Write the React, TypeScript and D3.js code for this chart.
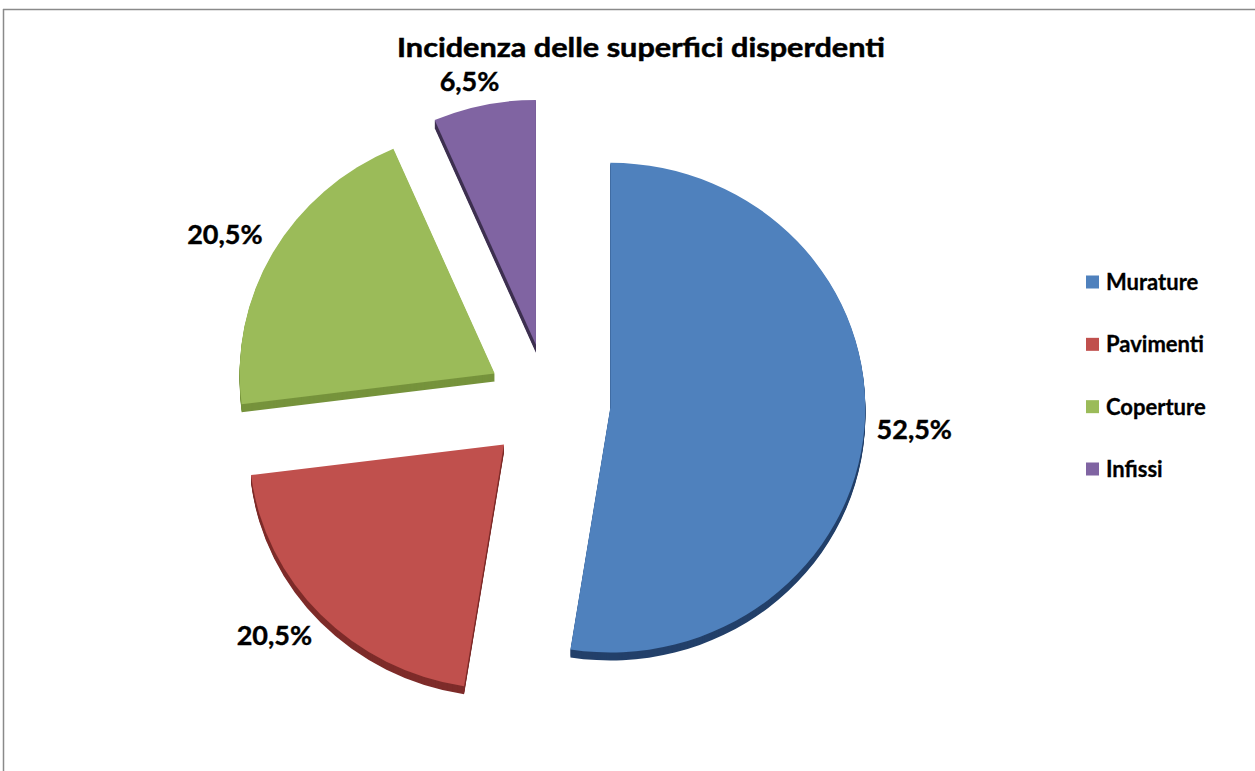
import React from "react";
import * as d3 from "d3";

const categories = ["Murature", "Pavimenti", "Coperture", "Infissi"];
const values = [52.5, 20.5, 20.5, 6.5];
const topColors = ["#4F81BD", "#C0504D", "#9BBB59", "#8064A2"];
const sideColors = ["#23406A", "#7E2C2A", "#76933C", "#3F3151"];
const title = "Incidenza delle superfici disperdenti";

const W = 1255;
const H = 771;
const FONT = "Lato, 'Open Sans', sans-serif";

export default function App() {
  const cx = 548.5;
  const cy = 403;
  const r = 255;
  const s = 0.96; // tilt (vertical squash)
  const explode = 62;
  const depth = 8;

  const pie = d3
    .pie<number>()
    .sort(null)
    .value((d) => d)
    .startAngle(0)
    .endAngle(2 * Math.PI);
  const arcs = pie(values);
  const arcGen = d3.arc<d3.PieArcDatum<number>>().innerRadius(0).outerRadius(r);

  const fmt = (v: number) => v.toFixed(1).replace(".", ",") + "%";
  const labelSize = 27;
  const clamp = (v: number) => Math.max(-1, Math.min(1, v));

  const legendY = d3
    .scalePoint<string>()
    .domain(categories)
    .range([282, 469]);

  return (
    <svg
      width={W}
      height={H}
      style={{ position: "absolute", left: 0, top: 0, background: "#fff" }}
    >
      <rect x={0} y={0} width={W} height={H} fill="#fff" />
      <line x1={3} y1={9.5} x2={W} y2={9.5} stroke="#8a8a8a" strokeWidth={1.5} />
      <line x1={3.5} y1={9} x2={3.5} y2={H} stroke="#8a8a8a" strokeWidth={1.5} />

      <text
        x={641}
        y={57}
        textAnchor="middle"
        fontFamily={FONT}
        fontWeight={700}
        fontSize={27}
        textLength={488}
        lengthAdjust="spacingAndGlyphs"
        fill="#000"
        stroke="#000"
        strokeWidth={0.5}
      >
        {title}
      </text>

      {arcs.map((a, i) => {
        const mid = (a.startAngle + a.endAngle) / 2;
        const ox = cx + Math.sin(mid) * explode;
        const oy = cy - Math.cos(mid) * explode * s;
        const path = arcGen(a) || "";
        const layers = d3.range(depth, 0, -1);
        return (
          <g key={"slice" + i}>
            {layers.map((t) => (
              <path
                key={t}
                d={path}
                transform={`translate(${ox},${oy + t}) scale(1,${s})`}
                fill={sideColors[i]}
              />
            ))}
            <path
              d={path}
              transform={`translate(${ox},${oy}) scale(1,${s})`}
              fill={topColors[i]}
            />
          </g>
        );
      })}

      {arcs.map((a, i) => {
        const mid = (a.startAngle + a.endAngle) / 2;
        const ux = Math.sin(mid);
        const uy = -Math.cos(mid);
        const label = fmt(values[i]);
        const hw = (label.length * 0.56 * labelSize) / 2;
        const hh = 12;
        const R = r + explode + 12;
        const lx = cx + ux * R + clamp(ux * 2) * hw;
        const ly = cy + uy * R * s + clamp(uy * 2) * hh;
        return (
          <text
            key={"lab" + i}
            x={lx}
            y={ly}
            dy="0.36em"
            textAnchor="middle"
            fontFamily={FONT}
            fontWeight={700}
            fontSize={labelSize}
            fill="#000"
            stroke="#000"
            strokeWidth={0.4}
          >
            {label}
          </text>
        );
      })}

      {categories.map((c, i) => {
        const y = legendY(c) as number;
        return (
          <g key={"leg" + i}>
            <rect x={1086} y={y - 6.5} width={13} height={13} fill={topColors[i]} />
            <text
              x={1106}
              y={y}
              dy="0.36em"
              fontFamily={FONT}
              fontWeight={700}
              fontSize={22}
              fill="#000"
              stroke="#000"
              strokeWidth={0.3}
            >
              {c}
            </text>
          </g>
        );
      })}
    </svg>
  );
}
